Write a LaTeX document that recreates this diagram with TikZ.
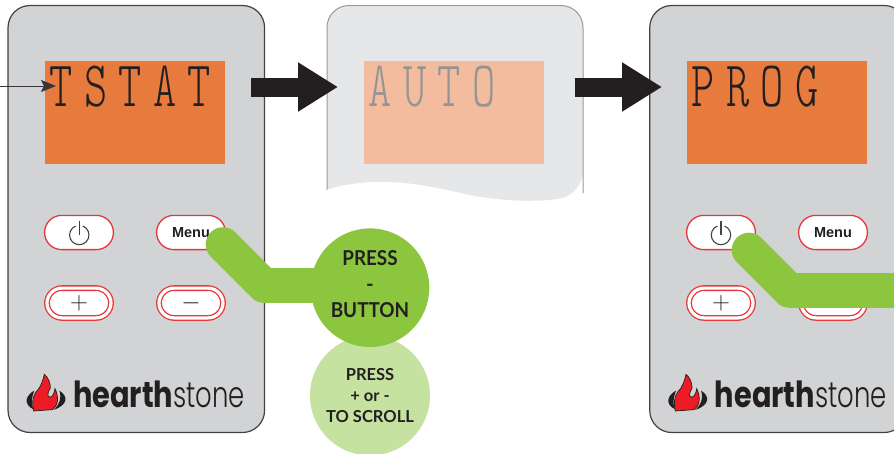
\documentclass[tikz,border=0pt]{standalone}
\usepackage{fontspec}
\usepackage{graphicx}
\usetikzlibrary{arrows.meta}
\setmainfont{Lato}
\newfontfamily\lcdfont[LetterSpace=25.5]{Latin Modern Mono Light}
\newfontfamily\menufont{Liberation Sans}
\newfontfamily\logofont{Poppins}
\newfontfamily\logolight{Poppins Light}
\definecolor{ink}{HTML}{231F20}
\definecolor{panelgray}{HTML}{D1D3D4}
\definecolor{panelpale}{HTML}{E6E7E8}
\definecolor{lcdorange}{HTML}{E77A3D}
\definecolor{lcdpale}{HTML}{F3BC9F}
\definecolor{btnred}{HTML}{E8363C}
\definecolor{flamered}{HTML}{ED1C24}
\definecolor{callgreen}{HTML}{8CC63F}
\definecolor{callpale}{HTML}{C6E2A0}
\tikzset{
  panelbox/.style={draw=ink!85!white,line width=1.2pt,fill=panelgray,rounded corners=22pt,minimum width=256.5pt,minimum height=427pt,inner sep=0pt},
  lcdbox/.style={fill=lcdorange,minimum width=180pt,minimum height=103pt,inner sep=0pt},
  lcdtext/.style={anchor=base west,inner sep=0pt,text=ink,font=\fontsize{65}{65}\selectfont\lcdfont},
  btnsingle/.style={draw=btnred,line width=1.3pt,fill=white,rounded corners=17pt,minimum width=68.8pt,minimum height=34.2pt,inner sep=0pt},
  btndouble/.style={draw=btnred,line width=1.3pt,double=white,double distance=3.2pt,fill=white,rounded corners=15pt,minimum width=64pt,minimum height=29.8pt,inner sep=0pt,text=ink,font=\fontsize{23}{23}\selectfont},
  menutext/.style={font=\fontsize{14.5}{14.5}\selectfont\menufont\bfseries,text=ink},
  bigarrow/.style={draw=ink,line width=19pt,-{Triangle[length=40pt,width=46.5pt]}},
  leader/.style={draw=callgreen,line width=34.6pt,line cap=round,line join=round},
  callbig/.style={circle,fill=callgreen,minimum size=118.6pt,inner sep=0pt},
  callbigtext/.style={inner sep=0pt,align=center,text=ink,font=\fontsize{20.5}{26}\selectfont\bfseries},
  callsmall/.style={circle,fill=callpale,minimum size=120pt,inner sep=0pt,align=center,text=ink,font=\fontsize{16.5}{21}\selectfont\bfseries},
  logotext/.style={anchor=base west,inner sep=0pt,text=ink,font=\fontsize{36}{36}\selectfont\logofont},
  flamelogo/.pic={
    \begin{scope}[x=0.3333pt,y=-0.3333pt]
      \fill[ink] (103,572) .. controls (78,585) and (68,612) .. (100,628) .. controls (92,612) and (95,592) .. (103,572) -- cycle;
      \fill[ink] (178,572) .. controls (205,588) and (205,615) .. (160,630) .. controls (178,615) and (186,595) .. (178,572) -- cycle;
      \fill[flamered,draw=ink,line width=0.7pt] (133,523) .. controls (128,545) and (122,562) .. (108,576)
        .. controls (96,592) and (96,615) .. (101,633) -- (157,629)
        .. controls (174,618) and (178,592) .. (165,566) .. controls (164,578) and (158,590) .. (150,592)
        .. controls (138,590) and (146,572) .. (151,565) .. controls (152,550) and (145,533) .. (133,523) -- cycle;
    \end{scope}
  }
}
\newcommand{\powericon}[2]{%
  \draw[ink!85!white,line width=1.1pt] (#1,#2) ++(3.6,-9) arc[start angle=-68,end angle=248,radius=9.7];
  \draw[ink!85!white,line width=1.1pt] (#1,#2) ++(0,-14.5) -- ++(0,14.5);
}
\newcommand{\logoword}{\scalebox{0.8}[1]{\textbf{hearth}}\scalebox{0.72}[1]{\logolight stone}}
\begin{document}
\begin{tikzpicture}[x=1pt,y=-1pt]
\path[use as bounding box,clip] (0,0) rectangle (894,453);
\fill[white] (0,0) rectangle (894,453);

% left panel
\node[panelbox] (p1) at (136.3,219) {};
\node[lcdbox] (s1) at (135,112.5) {};
\node[lcdtext] (t1) at (49.5,106) {\scalebox{0.68}[1]{TSTAT}};
\node[btnsingle] (b1) at (79,232.5) {};
\powericon{79.3}{235}
\node[btnsingle,menutext] (m1) at (191,232.5) {Menu};
\node[btndouble] (plus1) at (79,303) {$+$};
\node[btndouble] (minus1) at (191,303) {$-$};
\pic (f1) at (0,200) {flamelogo};
\node[logotext] (l1) at (73,407.3) {\logoword};

% middle panel
\fill[panelpale,rounded corners=22pt] (327,189.5) -- (327,5.5) -- (583,5.5) -- (583,193) [sharp corners]
  .. controls (550,201) and (515,203) .. (475,196) .. controls (440,189) and (385,172) .. (327,189.5) -- cycle;
\draw[black!40,line width=1pt,rounded corners=22pt] (327,189.5) -- (327,5.5) -- (583,5.5) -- (583,193);
\coordinate (p2w) at (327,87);
\coordinate (p2e) at (583,87);
\node[lcdbox,fill=lcdpale] (s2) at (454,112.5) {};
\node[lcdtext,text=black!42] (t2) at (368.5,106) {\scalebox{0.68}[1]{AUTO}};

% right panel
\node[panelbox] (p3) at (778,219) {};
\node[lcdbox] (s3) at (777,112.5) {};
\node[lcdtext] (t3) at (691.5,106) {\scalebox{0.68}[1]{PROG}};
\node[btnsingle] (b3) at (721,232.5) {};
\powericon{721}{235}
\node[btnsingle,menutext] (m3) at (833,232.5) {Menu};
\node[btndouble] (plus3) at (721,303) {$+$};
\node[btndouble] (minus3) at (833,303) {};
\pic (f3) at (641.7,200) {flamelogo};
\node[logotext] (l3) at (714.7,407.3) {\logoword};

% arrows
\coordinate (in0) at (0,86);
\coordinate (in1) at (56,86);
\draw[ink!90!white,line width=0.8pt,-{Stealth[length=15pt,width=12pt,inset=3pt]}] (in0) -- (in1);
\coordinate (a1s) at (250.5,87);
\coordinate (a1e) at (338,87);
\coordinate (a2s) at (574.5,87);
\coordinate (a2e) at (662,87);
\draw[bigarrow] (a1s) -- (a1e);
\draw[bigarrow] (a2s) -- (a2e);

% callouts
\node[callsmall] (c2) at (370,395.5) {PRESS\\+ or -\\TO SCROLL};
\coordinate (g1) at (223,244.5);
\coordinate (g2) at (264,285.5);
\coordinate (g2e) at (340,285.5);
\draw[leader] (g1) -- (g2) -- (g2e);
\node[callbig] (c1) at (370,287.7) {};
\node[callbigtext] (c1t) at (c1) [yshift=3.2pt] {\scalebox{0.92}[1]{PRESS}\\-\\\scalebox{0.92}[1]{BUTTON}};
\coordinate (g3) at (749,250);
\coordinate (g4) at (789.5,290.5);
\coordinate (g5) at (900,290.5);
\draw[leader] (g3) -- (g4) -- (g5);
\end{tikzpicture}
\end{document}
